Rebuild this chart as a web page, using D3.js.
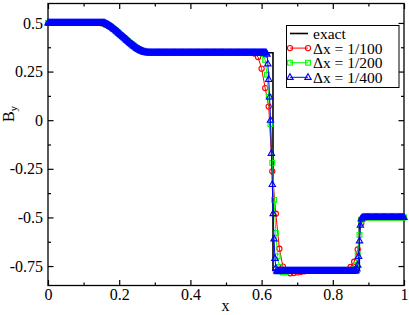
<!DOCTYPE html>
<html>
<head>
<meta charset="utf-8">
<script src="https://cdn.jsdelivr.net/npm/d3@7"></script>
<style>
  body { margin: 0; background: #fff; }
  svg { display: block; }
  text { font-family: "Liberation Serif", "DejaVu Serif", "Times New Roman", serif; }
</style>
</head>
<body>
<div id="container"></div>
<script>
/* CONSTANTS AND GLOBALS */
const width = 409, height = 315,
  margin = { top: 3.5, bottom: 29.5, left: 48, right: 5 },
  serif = "'Liberation Serif', 'DejaVu Serif', serif";

/* DATA */
const xTicks = [0, 0.2, 0.4, 0.6, 0.8, 1];
const xMinor = [0.1, 0.3, 0.5, 0.7, 0.9];
const yTicks = [-0.75, -0.5, -0.25, 0, 0.25, 0.5];
const yMinor = [-0.625, -0.375, -0.125, 0.125, 0.375];
const labels = ["exact", "Δx = 1/100", "Δx = 1/200", "Δx = 1/400"];
const colors = ["#000000", "#ff0000", "#00ff00", "#0000ff"];

// exact solution (polyline)
const exactX = [0, 0.16, 0.17, 0.18, 0.19, 0.20, 0.21, 0.22, 0.23, 0.24, 0.25, 0.26, 0.27, 0.275, 0.632, 0.632, 0.8745, 0.8745, 1];
const exactY = [0.5, 0.5, 0.488, 0.476, 0.462, 0.447, 0.431, 0.415, 0.399, 0.384, 0.370, 0.359, 0.350, 0.347, 0.347, -0.772, -0.772, -0.5, -0.5];

// numerical solutions on grid x = i*dx, values run-length coded: [value, count] or a single value
const dx100 = 0.01;
const by100 = [[0.5, 15], 0.498, 0.492, 0.484, 0.473, 0.459, 0.444, 0.429, 0.413, 0.398, 0.384, 0.371, 0.361, 0.354, 0.350, 0.348,
  [0.347, 28], 0.343, 0.325, 0.265, 0.165, 0.07, -0.263, -0.481, -0.661, -0.753, -0.780, -0.787, -0.786, -0.783, -0.780, -0.777,
  [-0.775, 11], -0.772, -0.755, -0.728, -0.665, -0.53, -0.504, [-0.5, 11]];

const dx200 = 0.005;
const by200 = [[0.5, 32], 0.497, 0.493, 0.488, 0.482, 0.476, 0.469, 0.462, 0.454, 0.446, 0.438, 0.430, 0.422, 0.414, 0.406, 0.398,
  0.391, 0.384, 0.377, 0.370, 0.364, 0.359, 0.355, 0.352, 0.350, 0.348,
  [0.347, 64], 0.340, 0.31, 0.234, 0.12, -0.02, -0.22, -0.41, -0.58, -0.70, -0.755, -0.777, -0.783, -0.782, -0.779,
  [-0.775, 36], -0.773, -0.765, -0.745, -0.69, -0.59, -0.515, -0.502, [-0.5, 23]];

const dx400 = 0.0025;
const by400 = [[0.5, 64], 0.499, 0.497, 0.494, 0.492, 0.489, 0.486, 0.483, 0.480, 0.477, 0.474,
  0.470, 0.467, 0.463, 0.459, 0.455, 0.451, 0.447, 0.443, 0.439, 0.435,
  0.431, 0.427, 0.423, 0.419, 0.415, 0.411, 0.407, 0.403, 0.399, 0.395,
  0.391, 0.388, 0.384, 0.380, 0.377, 0.373, 0.370, 0.367, 0.364, 0.362,
  0.359, 0.357, 0.355, 0.353, 0.351, 0.350, 0.349, 0.348, 0.348,
  [0.347, 133], 0.340, 0.29, 0.21, 0.12, 0.0, -0.17, -0.33, -0.48, -0.61, -0.71, -0.76, -0.775, -0.779,
  [-0.775, 87], -0.773, -0.765, -0.745, -0.70, -0.62, -0.54, -0.507, -0.501, [-0.5, 47]];

// unpack run-length lists into points
function unpack(rle, dx) {
  const vals = [];
  rle.forEach(v => {
    if (Array.isArray(v)) { for (let k = 0; k < v[1]; k++) vals.push(v[0]); }
    else vals.push(v);
  });
  return vals.map((v, i) => ({ x: i * dx, y: v }));
}

const exact = exactX.map((d, i) => ({ x: d, y: exactY[i] }));
const series = [
  { pts: unpack(by100, dx100), color: colors[1], sym: "circle" },
  { pts: unpack(by200, dx200), color: colors[2], sym: "square" },
  { pts: unpack(by400, dx400), color: colors[3], sym: "triangle" }
];

/* SCALES */
const xScale = d3.scaleLinear().domain([0, 1]).range([margin.left, width - margin.right]);
const yScale = d3.scaleLinear().domain([-0.85, 0.6]).range([height - margin.bottom, margin.top]);

const svg = d3.select("#container").append("svg")
  .attr("width", width)
  .attr("height", height)
  .attr("font-family", serif);

const x0 = margin.left, x1 = width - margin.right,
  y0 = height - margin.bottom, y1 = margin.top;

// axes: ticks pointing inward on all four sides
function style(g) {
  g.select(".domain").remove();
  g.attr("font-family", serif).attr("font-size", 16);
  g.selectAll("line").attr("stroke-width", 1.2);
}
const fmt = d => String(d);

svg.append("g").attr("transform", `translate(0,${y0})`)
  .call(d3.axisBottom(xScale).tickValues(xTicks).tickSize(-5.5).tickPadding(3).tickFormat(fmt)).call(style);
svg.append("g").attr("transform", `translate(0,${y0})`)
  .call(d3.axisBottom(xScale).tickValues(xMinor).tickSize(-3).tickFormat("")).call(style);
svg.append("g").attr("transform", `translate(0,${y1})`)
  .call(d3.axisTop(xScale).tickValues(xTicks).tickSize(-5.5).tickFormat("")).call(style);
svg.append("g").attr("transform", `translate(0,${y1})`)
  .call(d3.axisTop(xScale).tickValues(xMinor).tickSize(-3).tickFormat("")).call(style);

svg.append("g").attr("transform", `translate(${x0},0)`)
  .call(d3.axisLeft(yScale).tickValues(yTicks).tickSize(-5.5).tickPadding(5).tickFormat(fmt)).call(style);
svg.append("g").attr("transform", `translate(${x0},0)`)
  .call(d3.axisLeft(yScale).tickValues(yMinor).tickSize(-3).tickFormat("")).call(style);
svg.append("g").attr("transform", `translate(${x1},0)`)
  .call(d3.axisRight(yScale).tickValues(yTicks).tickSize(-5.5).tickFormat("")).call(style);
svg.append("g").attr("transform", `translate(${x1},0)`)
  .call(d3.axisRight(yScale).tickValues(yMinor).tickSize(-3).tickFormat("")).call(style);

// frame
svg.append("rect")
  .attr("x", x0).attr("y", y1)
  .attr("width", x1 - x0).attr("height", y0 - y1)
  .attr("fill", "none").attr("stroke", "black").attr("stroke-width", 1.3);

// axis labels
svg.append("text")
  .attr("x", (x0 + x1) / 2 - 0.5).attr("y", 311)
  .attr("text-anchor", "middle").attr("font-size", 16)
  .text("x");

const yl = svg.append("text")
  .attr("transform", "translate(13.5,114) rotate(-90)")
  .attr("text-anchor", "middle").attr("font-size", 16);
yl.append("tspan").text("B");
yl.append("tspan").attr("font-size", 11).attr("dy", 3).text("y");

/* MARKS */
const line = d3.line().x(d => xScale(d.x)).y(d => yScale(d.y));

svg.append("path").datum(exact)
  .attr("d", line).attr("fill", "none")
  .attr("stroke", colors[0]).attr("stroke-width", 1.6);

const tri = "M0,-3.6L3.2,2.1L-3.2,2.1Z";

function marker(sel, sym, color) {
  if (sym === "circle") {
    sel.append("circle").attr("r", 2.6);
  } else if (sym === "square") {
    sel.append("rect").attr("x", -2.4).attr("y", -2.4).attr("width", 4.8).attr("height", 4.8);
  } else {
    sel.append("path").attr("d", tri);
  }
  sel.selectAll("*").attr("fill", "none").attr("stroke", color).attr("stroke-width", 1.1);
}

series.forEach(s => {
  svg.append("path").datum(s.pts)
    .attr("d", line).attr("fill", "none")
    .attr("stroke", s.color).attr("stroke-width", 1);
  svg.append("g").selectAll("g")
    .data(s.pts)
    .join("g")
    .attr("transform", d => `translate(${xScale(d.x)},${yScale(d.y)})`)
    .each(function () { marker(d3.select(this), s.sym, s.color); });
});

/* LEGEND */
const lg = svg.append("g");
lg.append("rect")
  .attr("x", 286.5).attr("y", 25.5).attr("width", 112.5).attr("height", 62)
  .attr("fill", "white").attr("stroke", "black").attr("stroke-width", 1);

const syms = [null, "circle", "square", "triangle"];
labels.forEach((lab, i) => {
  const cy = 33.5 + i * 14.6;
  lg.append("line")
    .attr("x1", 290).attr("x2", 308).attr("y1", cy).attr("y2", cy)
    .attr("stroke", colors[i]).attr("stroke-width", i === 0 ? 1.6 : 1);
  if (syms[i]) {
    [290, 308].forEach(px => {
      const m = lg.append("g").attr("transform", `translate(${px},${cy})`);
      marker(m, syms[i], colors[i]);
    });
  }
  lg.append("text")
    .attr("x", 313).attr("y", cy).attr("dy", "0.35em")
    .attr("font-size", 15.5)
    .text(lab);
});
</script>
</body>
</html>
